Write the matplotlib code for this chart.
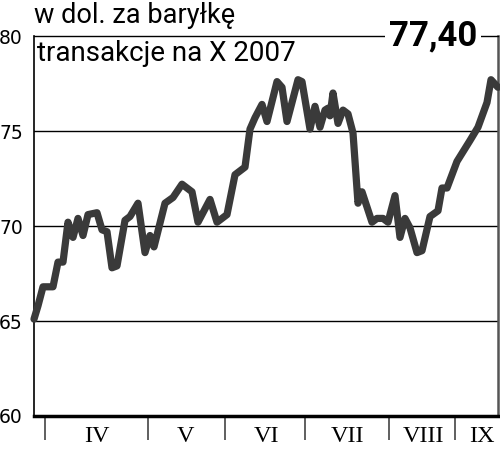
import matplotlib.pyplot as plt

# pozycja na osi czasu (0 = poczatek osi) i cena ropy w dol. za baryłkę
x = [0, 4, 9, 19, 24, 29, 34, 39, 44, 49, 54, 63, 68, 73, 78, 83, 91, 96, 104,
     111, 116, 120, 131, 139, 148, 158, 164, 176, 183, 193, 201, 211, 216, 221,
     228, 233, 243, 248, 253, 264, 268, 276, 281, 286, 291, 294, 296, 299, 304,
     309, 314, 319, 324, 328, 338, 343, 349, 354, 361, 366, 371, 376, 383, 388,
     396, 404, 408, 413, 423, 436, 444, 453, 457, 464]
cena = [65.1, 65.8, 66.8, 66.8, 68.1, 68.1, 70.2, 69.4, 70.4, 69.5, 70.6, 70.7,
        69.8, 69.7, 67.8, 67.9, 70.3, 70.5, 71.2, 68.6, 69.5, 68.9, 71.2, 71.5,
        72.2, 71.8, 70.2, 71.4, 70.2, 70.6, 72.7, 73.1, 75.1, 75.7, 76.4, 75.5,
        77.6, 77.3, 75.5, 77.7, 77.6, 75.1, 76.3, 75.2, 76.1, 76.2, 75.8, 77.0,
        75.4, 76.1, 75.9, 74.9, 71.2, 71.8, 70.2, 70.4, 70.4, 70.2, 71.6, 69.4,
        70.4, 69.9, 68.6, 68.7, 70.5, 70.8, 72.0, 72.0, 73.4, 74.5, 75.2, 76.5,
        77.7, 77.3]

granice = [11, 114, 191, 271, 355, 421]
srodki = [63, 151, 232, 313, 389, 448]
miesiace = ['IV', 'V', 'VI', 'VII', 'VIII', 'IX']
ostatnia = '77,40'

fig = plt.figure(figsize=(5, 4.49), dpi=100)
ax = fig.add_axes([0.068, 0.0735, 0.928, 0.8463])

for y in [65, 70, 75]:
    ax.axhline(y, color='black', lw=1.0, zorder=1)

ax.plot(x, cena, color='#3a3a3a', lw=5.2, solid_joinstyle='round',
        solid_capstyle='round', zorder=3, clip_on=False)

ax.set_xlim(0, 464)
ax.set_ylim(60, 80)
ax.set_yticks([60, 65, 70, 75, 80])
ax.tick_params(axis='y', length=0, pad=8, labelsize=13.5)

ax.set_xticks(granice, minor=True)
ax.set_xticks(srodki)
ax.set_xticklabels(miesiace, family='Liberation Serif', fontsize=17.5)
ax.tick_params(axis='x', which='major', length=0, pad=7)
ax.tick_params(axis='x', which='minor', length=17, width=1.2,
               color='#444444', direction='out')

ax.spines['left'].set_linewidth(1.2)
ax.spines['bottom'].set_linewidth(2.5)
ax.spines['right'].set_linewidth(1.8)
ax.spines['right'].set_color('#555555')
ax.spines['top'].set_linewidth(1.0)

fig.text(0.068, 0.995, 'w dol. za baryłkę', fontsize=19.5, family='Roboto',
         ha='left', va='top')
ax.text(0.006, 0.99, 'transakcje na X 2007', transform=ax.transAxes,
        fontsize=20, family='Roboto', ha='left', va='top')
ax.text(0.86, 1.0, ostatnia, transform=ax.transAxes, fontsize=25,
        fontweight='bold', family='Roboto', ha='center', va='center',
        bbox=dict(facecolor='white', edgecolor='none', pad=3), zorder=5)

fig.savefig('out.png', dpi=100)
